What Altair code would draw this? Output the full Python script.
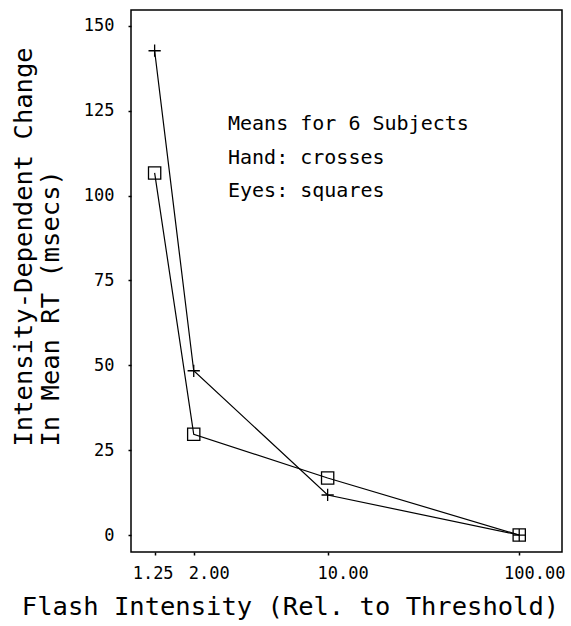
import altair as alt
import pandas as pd

# ---- data ----
intensity = [1.25, 2.0, 10.0, 100.0]
hand_rt = [142.7, 48.4, 11.8, 0.0]
eyes_rt = [106.7, 29.7, 16.8, 0.0]
x_ticks = [1.25, 2.0, 10.0, 100.0]
y_ticks = [0, 25, 50, 75, 100, 125, 150]
notes = ["Means for 6 Subjects", "Hand: crosses", "Eyes: squares"]
series_names = ["Hand", "Eyes"]

df = pd.DataFrame({
    "intensity": intensity + intensity,
    "rt": hand_rt + eyes_rt,
    "series": [series_names[0]] * len(intensity) + [series_names[1]] * len(intensity),
})

FONT = "DejaVu Sans Mono"
CROSS = "M-1,0L1,0M0,-1L0,1"

x_enc = alt.X(
    "intensity:Q",
    scale=alt.Scale(type="log", domain=[0.941, 167.2], nice=False),
    axis=alt.Axis(
        values=x_ticks,
        format=".2f",
        title="Flash Intensity (Rel. to Threshold)",
        labelFont=FONT,
        labelFontSize=17,
        labelPadding=10,
        labelOffset={"condition": {"test": "datum.value < 1.5", "value": -2}, "value": 15},
        titleFont=FONT,
        titleFontSize=25.5,
        titleFontWeight="normal",
        titleX=159,
        titleY=62,
        titleAnchor="middle",
        titleAlign="center",
        titleBaseline="alphabetic",
    ),
)
y_enc = alt.Y(
    "rt:Q",
    scale=alt.Scale(domain=[-5, 154.7], nice=False, zero=False),
    axis=alt.Axis(
        values=y_ticks,
        format="d",
        title=["Intensity-Dependent Change", "In Mean RT (msecs)"],
        labelFont=FONT,
        labelFontSize=17,
        labelPadding=14,
        titleFont=FONT,
        titleFontSize=25.5,
        titleFontWeight="normal",
        titleAngle=270,
        titleAlign="left",
        titleBaseline="top",
        titleLineHeight=27,
        titleX=-120,
        titleY=436,
    ),
)

base = alt.Chart(df)

lines = base.mark_line(color="black", strokeWidth=1.2).encode(
    x=x_enc, y=y_enc, detail="series:N", order="intensity:Q"
)

points = base.mark_point(filled=False, color="black", strokeWidth=1.3, size=150, opacity=1).encode(
    x="intensity:Q",
    y="rt:Q",
    shape=alt.Shape(
        "series:N",
        scale=alt.Scale(domain=series_names, range=[CROSS, "square"]),
        legend=None,
    ),
)

text_layers = []
for i, note in enumerate(notes):
    text_layers.append(
        alt.Chart(pd.DataFrame({"t": [note]}))
        .mark_text(font=FONT, fontSize=20, align="left", baseline="middle", color="black")
        .encode(text="t:N", x=alt.value(97), y=alt.value(114 + i * 33.5))
    )

chart = (
    alt.layer(lines, points, *text_layers)
    .properties(
        width=431,
        height=542,
        autosize="none",
        padding={"left": 131, "top": 10, "right": 9, "bottom": 74},
        background="white",
    )
    .configure_view(stroke="black", strokeWidth=1.5)
    .configure_axis(
        domain=False,
        grid=False,
        ticks=True,
        tickColor="black",
        tickSize=3,
        tickWidth=1.5,
        labelColor="black",
        titleColor="black",
    )
)

chart.save("out.html", embed_options={"renderer": "svg", "actions": False})
